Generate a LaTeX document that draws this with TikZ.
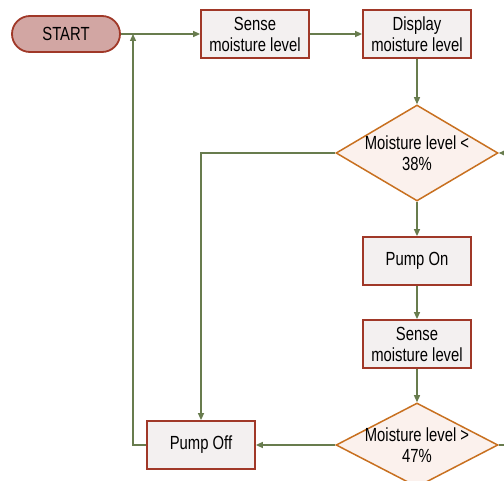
\documentclass[tikz,border=0pt]{standalone}
\usepackage{fontspec}
\setmainfont{Liberation Sans}[FakeStretch=0.78]
\usetikzlibrary{arrows.meta,shapes.geometric}
\definecolor{flowline}{RGB}{104,124,78}
\definecolor{boxline}{RGB}{160,56,40}
\definecolor{boxfill}{RGB}{243,240,240}
\definecolor{startfill}{RGB}{210,166,163}
\definecolor{decline}{RGB}{200,112,32}
\definecolor{decfill}{RGB}{251,241,237}
\tikzset{
	flow/.style={draw=flowline, line width=1.3pt, -{Triangle[length=7pt,width=6pt]}},
	stepbox/.style={draw=boxline, fill=boxfill, line width=1.8pt, minimum width=108pt, minimum height=48pt, inner sep=0pt, align=center},
	startbox/.style={stepbox, fill=startfill, minimum height=36pt, rounded corners=18pt},
	decision/.style={diamond, draw=decline, fill=decfill, line width=1.5pt, minimum width=162pt, minimum height=96pt, inner sep=0pt},
	dtext/.style={align=center, inner sep=0pt}
}

\begin{document}
\begin{tikzpicture}[x=1pt, y=-1pt, font=\fontsize{19}{21}\selectfont]
			%%%%% START %%%%%
			\clip (0, 0) rectangle (504, 481);
			
			\node[startbox] (start) at (66, 34) {START};
			\node[stepbox] (sense) at (255, 34) {Sense\\moisture level};
			\node[stepbox] (display) at (417, 34) {Display\\moisture level};
			\node[decision, label={[dtext]center:Moisture level <\\38\%}] (low) at (417, 153) {};
			\node[stepbox] (pumpon) at (417, 261) {Pump On};
			\node[stepbox] (sensetwo) at (417, 344) {Sense\\moisture level};
			\node[decision, minimum height=84pt, label={[dtext]center:Moisture level >\\47\%}] (high) at (417, 445) {};
			\node[stepbox] (pumpoff) at (201, 445) {Pump Off};
			\coordinate (join) at (133, 34);
			
			\draw[flow] (start) -- (sense);
			\draw[flow] (sense) -- (display);
			\draw[flow] (display) -- (low);
			\draw[flow] (low) -- (pumpon);
			\draw[flow] (pumpon) -- (sensetwo);
			\draw[flow] (sensetwo) -- (high);
			\draw[flow] (high) -- (pumpoff);
			\draw[flow] (low.west) -| (pumpoff.north);
			\draw[flow] (pumpoff.west) -| (join);
			\draw[flow] (high.east) -- ++(16, 0) |- (low.east);
			
			%%%%% END %%%%%
\end{tikzpicture}
\end{document}
